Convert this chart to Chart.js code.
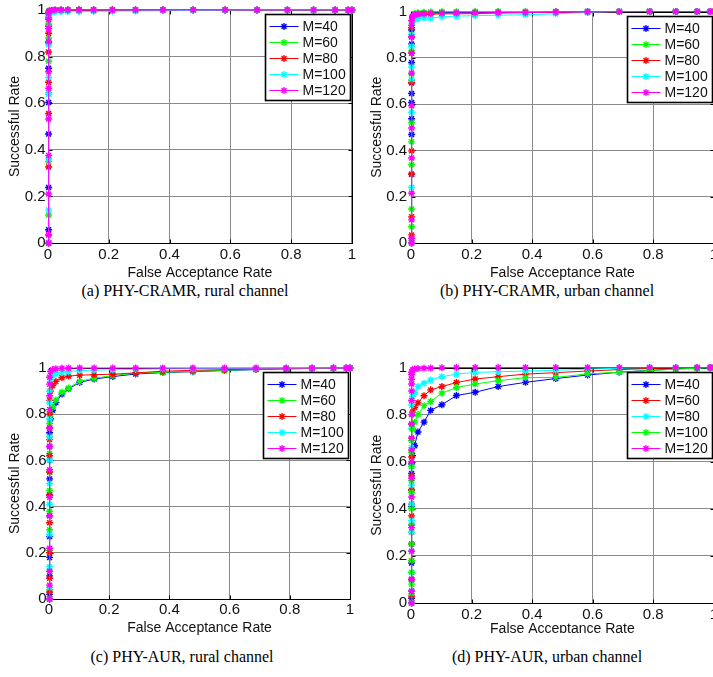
<!DOCTYPE html>
<html>
<head>
<meta charset="utf-8">
<script src="https://cdn.jsdelivr.net/npm/chart.js@4.4.0/dist/chart.umd.min.js"></script>
<style>
    html, body { margin: 0; padding: 0; background: #fff; width: 713px; height: 677px; overflow: hidden; }
    .panel { position: absolute; overflow: hidden; }
    .panel canvas { display: block; }
    .caption {
        position: absolute;
        transform: translate(-50%, -50%);
        font-family: "Liberation Serif", "Times New Roman", serif;
        font-size: 16px;
        color: #000;
        white-space: nowrap;
    }
</style>
</head>
<body>
<div class="panel" style="left:0px;top:0px;width:360px;height:282px"><canvas id="chartA" width="360" height="282"></canvas></div>
<div class="panel" style="left:366px;top:0px;width:347px;height:282px"><canvas id="chartB" width="356" height="282"></canvas></div>
<div class="panel" style="left:0px;top:358px;width:358px;height:279px"><canvas id="chartC" width="358" height="279"></canvas></div>
<div class="panel" style="left:366px;top:356px;width:347px;height:277px"><canvas id="chartD" width="356" height="282"></canvas></div>

<div class="caption" style="left:185px;top:291px">(a) PHY-CRAMR, rural channel</div>
<div class="caption" style="left:547px;top:291px">(b) PHY-CRAMR, urban channel</div>
<div class="caption" style="left:182px;top:657px">(c) PHY-AUR, rural channel</div>
<div class="caption" style="left:547px;top:657px">(d) PHY-AUR, urban channel</div>

<script>
// 横轴：误接受率（所有子图共用的阈值采样点）
const FAR_ZERO = 0.002;
const FAR_TAIL = [0.005, 0.012, 0.023, 0.043, 0.065, 0.102, 0.15, 0.212, 0.288, 0.378,
                  0.478, 0.583, 0.688, 0.788, 0.874, 0.945, 0.988, 1];
const AXIS_TICKS = [0, 0.2, 0.4, 0.6, 0.8, 1];

const LABELS = ['M=40', 'M=60', 'M=80', 'M=100', 'M=120'];
const COLORS = ['#0000ff', '#00ff00', '#ff0000', '#00ffff', '#ff00ff'];
const LABELS_D = ['M=40', 'M=60', 'M=80', 'M=100', 'M=120'];
const COLORS_D = ['#0000ff', '#ff0000', '#00ffff', '#00ff00', '#ff00ff'];

// (a) PHY-CRAMR, rural
const headA = [
    [0, 0.057, 0.238, 0.468, 0.603, 0.75, 0.86, 0.93, 0.97, 0.99],
    [0, 0.12, 0.35, 0.645, 0.78, 0.88, 0.94, 0.98, 0.995],
    [0, 0.035, 0.326, 0.556, 0.69, 0.82, 0.9, 0.96, 0.99],
    [0.003, 0.142, 0.362, 0.638, 0.71, 0.851, 0.92, 0.97, 0.985],
    [0, 0.035, 0.21, 0.376, 0.532, 0.664, 0.735, 0.865, 0.92, 0.96, 0.985]
];
const tailA = [
    [0.995, 0.998, 0.999, 0.999, 1, 1, 1, 1, 1, 1, 1, 1, 1, 1, 1, 1, 1, 1],
    [0.996, 0.998, 0.999, 1, 1, 1, 1, 1, 1, 1, 1, 1, 1, 1, 1, 1, 1, 1],
    [0.994, 0.997, 0.998, 0.999, 0.999, 1, 1, 1, 1, 1, 1, 1, 1, 1, 1, 1, 1, 1],
    [0.985, 0.99, 0.991, 0.992, 0.992, 0.993, 0.994, 0.995, 0.996, 0.997, 0.998, 0.999, 1, 1, 1, 1, 1, 1],
    [0.997, 0.999, 1, 1, 1, 1, 1, 1, 1, 1, 1, 1, 1, 1, 1, 1, 1, 1]
];

// (b) PHY-CRAMR, urban
const headB = [
    [0, 0.02, 0.297, 0.469, 0.537, 0.607, 0.646, 0.692, 0.78, 0.86, 0.92],
    [0, 0.07, 0.147, 0.338, 0.437, 0.52, 0.7, 0.73, 0.83, 0.9, 0.94],
    [0, 0.035, 0.113, 0.297, 0.398, 0.692, 0.82, 0.89, 0.93],
    [0, 0.24, 0.565, 0.706, 0.76, 0.85, 0.9],
    [0, 0.02, 0.1, 0.215, 0.367, 0.497, 0.593, 0.734, 0.82, 0.89, 0.94, 0.96]
];
const tailB = [
    [0.975, 0.985, 0.99, 0.992, 0.994, 0.995, 0.996, 0.997, 0.998, 0.998, 0.999, 1, 1, 1, 1, 1, 1, 1],
    [0.98, 0.99, 0.995, 0.997, 0.998, 0.999, 0.999, 1, 1, 1, 1, 1, 1, 1, 1, 1, 1, 1],
    [0.975, 0.982, 0.985, 0.987, 0.988, 0.99, 0.99, 0.991, 0.993, 0.995, 0.997, 0.998, 1, 1, 1, 1, 1, 1],
    [0.955, 0.965, 0.968, 0.972, 0.972, 0.977, 0.98, 0.982, 0.984, 0.986, 0.99, 0.996, 1, 1, 1, 1, 1, 1],
    [0.978, 0.985, 0.988, 0.99, 0.991, 0.992, 0.993, 0.994, 0.995, 0.996, 0.997, 0.998, 0.999, 1, 1, 1, 1, 1]
];

// (c) PHY-AUR, rural
const headC = [
    [0, 0.02, 0.1, 0.18, 0.27, 0.36, 0.45, 0.52, 0.6, 0.66, 0.72],
    [0, 0.04, 0.12, 0.21, 0.3, 0.38, 0.47, 0.55, 0.63, 0.7, 0.76],
    [0, 0.03, 0.09, 0.2, 0.33, 0.45, 0.55, 0.62, 0.69, 0.74, 0.8, 0.86],
    [0, 0.05, 0.14, 0.28, 0.41, 0.5, 0.6, 0.7, 0.78, 0.85, 0.9],
    [0, 0.06, 0.12, 0.22, 0.36, 0.44, 0.56, 0.66, 0.74, 0.82, 0.88, 0.93, 0.96]
];
const tailC = [
    [0.78, 0.817, 0.85, 0.887, 0.91, 0.938, 0.952, 0.963, 0.974, 0.98, 0.984, 0.989, 0.993, 0.996, 0.998, 0.999, 1, 1],
    [0.8, 0.83, 0.862, 0.895, 0.913, 0.942, 0.956, 0.967, 0.978, 0.981, 0.986, 0.99, 0.994, 0.997, 0.998, 0.999, 1, 1],
    [0.9, 0.924, 0.942, 0.958, 0.965, 0.969, 0.971, 0.973, 0.979, 0.986, 0.99, 0.993, 0.996, 0.998, 0.999, 1, 1, 1],
    [0.95, 0.967, 0.974, 0.981, 0.984, 0.989, 0.991, 0.992, 0.994, 0.996, 0.997, 0.998, 0.999, 1, 1, 1, 1, 1],
    [0.985, 0.993, 0.997, 0.999, 1, 1, 1, 1, 1, 1, 1, 1, 1, 1, 1, 1, 1, 1]
];

// (d) PHY-AUR, urban
const headD = [
    [0, 0.02, 0.05, 0.1, 0.17, 0.25, 0.33, 0.41, 0.48, 0.55, 0.59],
    [0, 0.03, 0.1, 0.18, 0.25, 0.3, 0.37, 0.42, 0.48, 0.54, 0.62, 0.7, 0.76],
    [0, 0.05, 0.13, 0.22, 0.3, 0.35, 0.42, 0.5, 0.58, 0.66, 0.74, 0.8, 0.84],
    [0, 0.04, 0.08, 0.13, 0.18, 0.25, 0.33, 0.4, 0.47, 0.52, 0.58, 0.64, 0.69],
    [0, 0.05, 0.1, 0.22, 0.32, 0.45, 0.53, 0.6, 0.65, 0.7, 0.76, 0.8, 0.86, 0.9, 0.93, 0.95, 0.97, 0.98]
];
const tailD = [
    [0.626, 0.668, 0.726, 0.768, 0.818, 0.842, 0.881, 0.895, 0.919, 0.937, 0.953, 0.968, 0.98, 0.988, 0.994, 0.997, 0.999, 1],
    [0.81, 0.83, 0.85, 0.88, 0.905, 0.919, 0.936, 0.951, 0.961, 0.972, 0.978, 0.985, 0.991, 0.996, 0.998, 1, 1, 1],
    [0.877, 0.894, 0.919, 0.933, 0.947, 0.961, 0.972, 0.979, 0.982, 0.985, 0.988, 0.993, 0.997, 1, 1, 1, 1, 1],
    [0.74, 0.768, 0.8, 0.838, 0.856, 0.891, 0.915, 0.93, 0.944, 0.957, 0.958, 0.973, 0.98, 0.987, 0.993, 0.997, 0.999, 1],
    [0.99, 0.994, 0.996, 0.997, 0.998, 0.999, 1, 1, 1, 1, 1, 1, 1, 1, 1, 1, 1, 1]
];

const SANS = '"Liberation Sans", Arial, Helvetica, sans-serif';

function buildPoints(head, tail) {
    const pts = head.map(y => ({ x: FAR_ZERO, y: y }));
    tail.forEach((y, i) => pts.push({ x: FAR_TAIL[i], y: y }));
    return pts;
}

function drawStar(ctx, x, y, r) {
    ctx.beginPath();
    ctx.moveTo(x, y - r); ctx.lineTo(x, y + r);
    ctx.moveTo(x - r, y); ctx.lineTo(x + r, y);
    const d = r * Math.SQRT1_2;
    ctx.moveTo(x - d, y - d); ctx.lineTo(x + d, y + d);
    ctx.moveTo(x - d, y + d); ctx.lineTo(x + d, y - d);
    ctx.stroke();
}

// 坐标框 + 向内的刻度线（MATLAB 风格）
const axesFrame = {
    id: 'axesFrame',
    beforeDatasetsDraw(chart) {
        const { ctx, chartArea: a, scales } = chart;
        const L = Math.round(a.left) + 0.5, R = Math.round(a.right) + 0.5;
        const T = Math.round(a.top) + 0.5, B = Math.round(a.bottom) + 0.5;
        ctx.save();
        ctx.strokeStyle = '#000';
        ctx.lineWidth = 1;
        ctx.beginPath();
        AXIS_TICKS.forEach(v => {
            const px = Math.round(scales.x.getPixelForValue(v)) + 0.5;
            const py = Math.round(scales.y.getPixelForValue(v)) + 0.5;
            ctx.moveTo(px, B); ctx.lineTo(px, B - 4);
            ctx.moveTo(px, T); ctx.lineTo(px, T + 4);
            ctx.moveTo(L, py); ctx.lineTo(L + 4, py);
            ctx.moveTo(R, py); ctx.lineTo(R - 4, py);
        });
        ctx.stroke();
        ctx.strokeRect(L, T, R - L, B - T);
        ctx.restore();
    }
};

// 图例画在绘图区右上角
const boxLegend = {
    id: 'boxLegend',
    afterDraw(chart, args, opts) {
        const { ctx, chartArea: a } = chart;
        const sets = chart.data.datasets;
        const w = 85, rowH = 16;
        const h = rowH * (sets.length - 1) + 22;
        const x0 = Math.round(a.right - opts.right - w) + 0.5;
        const y0 = Math.round(a.top + opts.top) + 0.5;
        ctx.save();
        ctx.fillStyle = '#fff';
        ctx.fillRect(x0, y0, w, h);
        ctx.strokeStyle = '#000';
        ctx.lineWidth = 1.6;
        ctx.strokeRect(x0, y0, w, h);
        ctx.font = '14px ' + SANS;
        ctx.textBaseline = 'middle';
        sets.forEach((ds, i) => {
            const cy = Math.round(y0 + 11 + i * rowH) + 0.5;
            ctx.strokeStyle = ds.borderColor;
            ctx.lineWidth = 1;
            ctx.beginPath();
            ctx.moveTo(x0 + 4, cy); ctx.lineTo(x0 + 33, cy);
            ctx.stroke();
            ctx.lineWidth = 1.3;
            drawStar(ctx, x0 + 18.5, cy, 3.5);
            ctx.fillStyle = '#111';
            ctx.fillText(ds.label, x0 + 37, cy + 1);
        });
        ctx.restore();
    }
};

function makeChart(id, geom, labels, colors, heads, tails) {
    const datasets = labels.map((label, i) => ({
        label: label,
        data: buildPoints(heads[i], tails[i]),
        borderColor: colors[i],
        backgroundColor: colors[i],
        borderWidth: 1,
        pointStyle: 'star',
        pointRadius: 3.5,
        pointBorderWidth: 1.4,
        pointBorderColor: colors[i],
        tension: 0,
        clip: false,
        order: labels.length - 1 - i
    }));

    const tickFont = { family: SANS, size: 15, lineHeight: 1 };
    const titleFont = { family: SANS, size: 14, lineHeight: 1.2 };
    const fmt = v => String(+v.toFixed(1));
    const gridColor = '#8a8a8a';

    return new Chart(document.getElementById(id), {
        type: 'line',
        data: { datasets },
        options: {
            responsive: false,
            animation: false,
            events: [],
            layout: { padding: { top: geom.top, right: geom.right, left: 0, bottom: 0 } },
            plugins: {
                legend: { display: false },
                tooltip: { enabled: false },
                boxLegend: { right: 2, top: 4 }
            },
            scales: {
                x: {
                    type: 'linear',
                    min: 0, max: 1,
                    afterFit: s => { s.height = geom.xHeight; },
                    afterBuildTicks: s => { s.ticks = AXIS_TICKS.map(v => ({ value: v })); },
                    ticks: { color: '#111', font: tickFont, padding: geom.xPad, maxRotation: 0, callback: fmt },
                    grid: { color: gridColor, lineWidth: 1, drawTicks: false },
                    border: { display: false },
                    title: { display: true, text: 'False Acceptance Rate', color: '#111', font: titleFont, padding: { top: 0, bottom: 0 } }
                },
                y: {
                    type: 'linear',
                    min: 0, max: 1,
                    afterFit: s => { s.width = geom.yWidth; },
                    afterBuildTicks: s => { s.ticks = AXIS_TICKS.map(v => ({ value: v })); },
                    ticks: { color: '#111', font: tickFont, padding: geom.yPad, callback: fmt },
                    grid: { color: gridColor, lineWidth: 1, drawTicks: false },
                    border: { display: false },
                    title: { display: true, text: 'Successful Rate', color: '#111', font: titleFont, padding: { top: geom.yTitle, bottom: 0 } }
                }
            }
        },
        plugins: [axesFrame, boxLegend]
    });
}

makeChart('chartA', { top: 8, right: 8, yWidth: 48, xHeight: 39, xPad: 4, yPad: 2.5, yTitle: 6.6 },
    LABELS, COLORS, headA, tailA);
makeChart('chartB', { top: 8, right: 8, yWidth: 45, xHeight: 39, xPad: 4, yPad: 4, yTitle: 2.6 },
    LABELS, COLORS, headB, tailB);
makeChart('chartC', { top: 8, right: 8, yWidth: 49, xHeight: 38, xPad: 3, yPad: 2.5, yTitle: 6.6 },
    LABELS, COLORS, headC, tailC);
makeChart('chartD', { top: 8, right: 8, yWidth: 45, xHeight: 35, xPad: 4, yPad: 4, yTitle: 2.6 },
    LABELS_D, COLORS_D, headD, tailD);
</script>
</body>
</html>
